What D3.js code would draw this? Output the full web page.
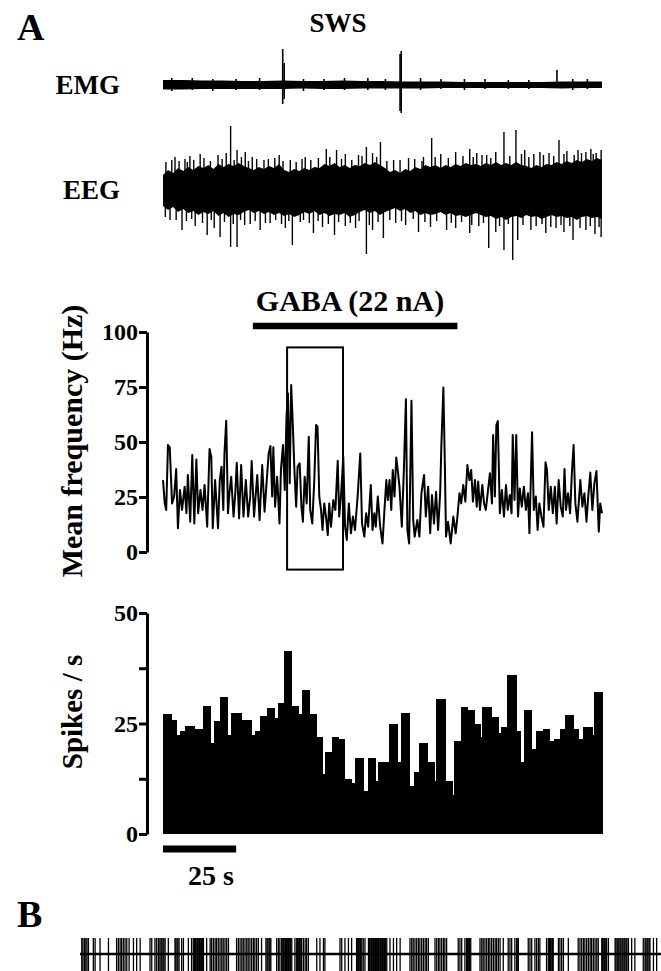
<!DOCTYPE html>
<html>
<head>
<meta charset="utf-8">
<script src="https://cdn.jsdelivr.net/npm/d3@7"></script>
<style>
body { margin: 0; background: #fff; }
text { font-family: "Liberation Serif", "Times New Roman", serif; font-weight: bold; fill: #000; }
</style>
</head>
<body>
<svg></svg>
<script>
// EMG envelope (arbitrary units), evenly spaced over 150 s, plus the large deflections [t, up, down]
const emgUpper = [5, 5, 4.5, 4.5, 4, 4, 4.5, 4, 4, 4.5, 4, 4, 3.5, 3.5, 3.5, 3, 3, 3, 3, 3, 3.5, 3.5, 3.5]
const emgLower = [-4.5, -4.5, -4, -4, -4, -4, -4, -3.5, -4, -4, -3.5, -3.5, -3.5, -3.5, -3, -3, -3, -3, -3, -3, -3.5, -3, -3]
const emgSpikes = [
    [3, 7, -6], [10, 7, -5], [17, 6, -6], [25, 6, -5], [33, 7, -5], [40.9, 36, -19], [41.4, 22, -14],
    [48, 6, -6], [55, 6, -5], [62, 7, -5], [70, 7, -5], [76, 6, -5], [81.0, 31, -26], [81.4, 34, -28],
    [88, 7, -5], [95, 6, -4], [103, 6, -5], [110, 6, -4], [118, 5, -4], [125, 5, -4], [134.6, 15, -2],
    [140, 6, -5], [145, 6, -4]
]

// EEG envelope (arbitrary units), evenly spaced over 150 s, plus spikes [t, value]
const eegUpper = [
    15, 20, 17, 22, 19, 23, 20, 24, 22, 25,
    21, 26, 23, 26, 24, 27, 24, 22, 20, 23,
    21, 24, 22, 26, 20, 18, 21, 19, 22, 20,
    23, 22, 26, 24, 27, 23, 25, 22, 25, 24,
    27, 25, 28, 25, 22, 18, 20, 17, 21, 19,
    23, 21, 25, 23, 25, 22, 25, 23, 26, 24,
    27, 25, 26, 24, 27, 25, 28, 25, 27, 25,
    28, 25, 24, 22, 25, 23, 26, 25, 28, 26,
    29, 27, 30, 28, 31, 29, 32, 30
]
const eegLower = [
    -16, -20, -17, -22, -19, -23, -21, -25, -22, -24,
    -21, -26, -23, -27, -24, -25, -22, -20, -23, -21,
    -24, -22, -25, -23, -26, -24, -27, -25, -22, -24,
    -21, -25, -23, -26, -24, -25, -23, -27, -25, -22,
    -20, -23, -21, -25, -22, -20, -18, -21, -19, -23,
    -21, -25, -23, -25, -24, -22, -25, -23, -26, -25,
    -27, -25, -23, -25, -27, -26, -29, -27, -30, -27,
    -26, -28, -25, -27, -26, -29, -27, -25, -27, -26,
    -28, -27, -30, -27, -26, -28, -27, -29
]
const eegSpikes = [
    [23.1, 64], [18.8, 35], [25.3, 40], [28.1, 38], [39.7, 35], [55.8, 41], [59.3, 40], [69.5, 43],
    [74.3, 48], [91.8, 52], [104.8, 41], [110.6, 35], [116.5, 58], [120.6, 60], [123.6, 40],
    [128.8, 38], [135.3, 50], [144.5, 38], [148.0, 37],
    [6.5, -40], [15.1, -45], [19.5, -47], [23.1, -57], [25.3, -57], [27.9, -35], [33.2, -40],
    [44.2, -55], [51.4, -43], [58.6, -45], [69.5, -64], [75.3, -48], [87.3, -42], [96.9, -40],
    [104.8, -43], [111.3, -58], [116.5, -60], [119.5, -70], [121.2, -50], [130.8, -43],
    [140.1, -50], [149.7, -47],
    [4.1, 33], [9.2, 34], [12.7, 36], [21.6, 37], [30.5, 33], [36.0, 31], [43.5, 30], [48.6, 33],
    [53.1, 32], [62.3, 36], [66.8, 35], [71.6, 37], [78.8, 30], [83.9, 32], [89.0, 33], [94.9, 36],
    [100.0, 38], [107.2, 37], [113.7, 38], [126.7, 36], [131.9, 37], [138.0, 39], [141.8, 40],
    [146.2, 41], [149.7, 40],
    [2.4, -30], [11.0, -36], [17.5, -38], [29.8, -34], [36.6, -33], [41.8, -38], [46.9, -32],
    [54.5, -37], [62.3, -36], [65.8, -38], [71.6, -40], [79.5, -33], [82.9, -35], [91.4, -37],
    [100.0, -38], [107.9, -36], [113.7, -42], [125.7, -40], [134.3, -38], [137.0, -42],
    [144.5, -40], [147.6, -44],
    [1.0, 28], [3.0, 30], [5.5, 29], [7.5, 31], [8.3, 28], [10.5, 30], [14.0, 32], [16.2, 29],
    [20.2, 31], [24.3, 30], [26.8, 33], [29.2, 29], [32.0, 31], [34.5, 30], [38.2, 32], [41.0, 29],
    [45.5, 28], [47.5, 31], [50.5, 30], [57.0, 33], [61.0, 31], [64.5, 30], [68.0, 34], [73.0, 33],
    [76.5, 29], [81.0, 30], [86.0, 31], [88.5, 29], [93.0, 33], [97.5, 32], [102.5, 34], [106.0, 33],
    [109.0, 35], [112.0, 32], [118.5, 34], [122.5, 36], [125.0, 33], [130.0, 35], [133.5, 34],
    [137.0, 36], [140.5, 35], [143.0, 37], [147.0, 36],
    [0.8, -27], [4.5, -30], [8.0, -31], [9.8, -29], [13.5, -33], [16.5, -30], [21.0, -32], [24.0, -34],
    [26.5, -30], [31.5, -31], [35.0, -33], [38.5, -30], [40.5, -34], [43.0, -31], [48.0, -30],
    [50.0, -33], [53.0, -31], [56.5, -34], [60.0, -32], [64.0, -33], [67.0, -31], [70.5, -35],
    [73.5, -32], [77.5, -30], [81.5, -31], [85.5, -29], [89.5, -32], [93.5, -31], [98.5, -33],
    [102.0, -32], [105.5, -35], [109.5, -33], [115.0, -36], [118.0, -34], [123.0, -35], [127.5, -36],
    [129.5, -34], [132.5, -37], [136.0, -35], [139.0, -36], [142.5, -38], [146.0, -36], [149.0, -37]
]

// GABA ejection period (s) and the boxed segment [t0, t1, hzLow, hzHigh]
const gabaOn = [30.7, 100.6]
const zoomBox = [42.4, 61.5, -8, 93]

// mean frequency trace [t (s), Hz]
const freqTrace = [
    [0, 32.7], [0.6, 22.1], [1.1, 19.1], [1.7, 48.6], [2.3, 47.6], [3.1, 22.1], [3.8, 25.2], [4.5, 37.7],
    [5.1, 10.8], [5.8, 28.2], [6.5, 19.1], [7.4, 29.7], [8.0, 17.6], [8.5, 35.0], [9.3, 13.8], [10.0, 44.1],
    [10.7, 13.0], [11.4, 42.1], [12.0, 17.6], [12.8, 28.2], [13.5, 19.1], [14.2, 30.5], [15.1, 11.5],
    [15.9, 46.8], [16.5, 43.3], [17.0, 10.8], [17.8, 32.7], [18.8, 10.8], [19.4, 32.7], [20.0, 38.8],
    [20.6, 19.1], [21.0, 44.8], [21.6, 59.7], [22.2, 17.6], [22.7, 26.7], [23.3, 34.2], [24.1, 16.1],
    [24.7, 26.7], [25.2, 40.6], [26.0, 15.3], [26.7, 39.5], [27.5, 16.1], [28.3, 32.7], [29.1, 16.1],
    [29.8, 25.2], [30.3, 41.4], [31.1, 16.1], [32.2, 35.0], [33.0, 14.5], [33.9, 39.5], [34.7, 18.3],
    [35.3, 29.7], [36.1, 44.8], [36.7, 48.2], [37.3, 25.2], [37.7, 47.6], [38.3, 20.6], [39.0, 34.2],
    [39.8, 13.0], [40.3, 37.3], [41.0, 48.6], [41.6, 28.2], [42.2, 61.5], [42.7, 72.1], [43.3, 31.2],
    [43.8, 75.9], [44.3, 60.0], [44.9, 37.3], [45.5, 20.6], [46.0, 38.8], [46.7, 40.3], [47.3, 20.6],
    [47.8, 13.8], [48.4, 34.2], [49.1, 22.1], [49.8, 52.4], [50.3, 19.1], [51.0, 13.0], [51.7, 32.7],
    [52.3, 57.7], [52.8, 57.0], [53.4, 25.2], [54.0, 19.1], [54.5, 10.0], [55.1, 22.1], [55.7, 16.1],
    [56.3, 7.7], [56.8, 22.1], [57.4, 11.5], [58.2, 23.6], [58.9, 19.1], [59.7, 41.5], [60.2, 16.1],
    [60.8, 25.2], [61.6, 43.3], [62.2, 11.5], [62.8, 5.5], [63.5, 22.1], [64.2, 8.5], [64.9, 16.1],
    [65.6, 10.0], [66.5, 25.2], [67.4, 44.8], [68.0, 13.0], [68.8, 7.0], [69.4, 17.6], [70.1, 11.5],
    [71.0, 30.5], [71.6, 10.0], [72.2, 17.6], [72.7, 11.5], [73.4, 25.2], [74.2, 11.5], [75.0, 3.9],
    [75.6, 17.6], [76.3, 32.7], [76.8, 23.6], [77.4, 32.7], [78.0, 19.1], [78.5, 37.3], [79.1, 25.2],
    [79.7, 43.0], [80.2, 37.3], [80.8, 29.7], [81.6, 11.5], [82.3, 37.3], [83.0, 69.4], [83.5, 10.0],
    [84.1, 3.9], [84.9, 68.8], [85.5, 14.5], [86.0, 7.0], [86.9, 14.5], [87.6, 7.0], [88.3, 26.7],
    [89.2, 35.0], [89.8, 16.1], [90.6, 29.7], [91.3, 8.5], [91.9, 25.9], [92.6, 13.0], [93.3, 27.4],
    [94.0, 10.0], [94.7, 26.7], [95.1, 47.9], [95.8, 74.8], [96.3, 40.3], [96.7, 7.0], [97.4, 13.8],
    [98.3, 3.9], [99.2, 16.1], [100.0, 8.5], [100.6, 16.1], [101.3, 26.7], [101.9, 22.1], [102.6, 30.5],
    [103.3, 22.9], [104.0, 39.5], [104.7, 32.7], [105.3, 37.3], [105.9, 22.9], [106.6, 32.7],
    [107.2, 20.6], [107.7, 32.0], [108.3, 19.1], [109.1, 30.5], [109.7, 22.1], [110.3, 19.1],
    [111.0, 27.4], [111.7, 35.8], [112.4, 22.1], [112.8, 53.2], [113.4, 25.2], [113.9, 57.7],
    [114.4, 59.5], [115.1, 17.6], [115.8, 28.2], [116.5, 16.1], [117.2, 30.5], [117.8, 19.1],
    [118.5, 25.9], [119.1, 17.6], [119.5, 53.2], [120.1, 23.6], [120.7, 53.2], [121.3, 16.1],
    [121.9, 28.9], [122.6, 20.6], [123.3, 29.7], [124.0, 19.1], [124.7, 26.7], [125.2, 8.5],
    [126.1, 54.4], [126.7, 19.1], [127.4, 25.2], [128.0, 10.0], [128.6, 22.1], [129.3, 16.1],
    [130.0, 11.5], [130.7, 40.8], [131.2, 37.3], [131.8, 19.1], [132.5, 29.7], [133.2, 17.6],
    [133.9, 29.7], [134.5, 13.0], [135.2, 32.7], [135.9, 20.6], [136.6, 16.1], [137.2, 37.7],
    [137.7, 19.1], [138.4, 26.7], [139.1, 17.6], [139.7, 35.8], [140.3, 48.6], [140.9, 22.1],
    [141.6, 13.8], [142.2, 25.2], [142.6, 32.7], [143.3, 20.6], [144.0, 26.7], [144.7, 13.8],
    [145.3, 25.2], [146.0, 36.1], [146.7, 19.1], [147.4, 31.2], [148.1, 36.8], [148.9, 9.2],
    [149.4, 22.1], [150.0, 17.6]
]
const freqTicks = [0, 25, 50, 75, 100]

// rate histogram: bin edges (s) and spikes / s
const binEdges = [
    0, 2.6, 4.6, 5.7, 7.6, 10.6, 11.4, 13.7, 16.0, 17.4, 19.6, 22.0, 23.4, 26.5, 30.2, 31.4, 33.3,
    35.6, 37.9, 39.4, 41.4, 43.9, 46.2, 47.6, 50.0, 52.3, 54.2, 55.4, 57.6, 59.9, 62.0, 64.3, 65.7,
    68.2, 69.9, 72.3, 73.6, 77.2, 80.0, 81.4, 84.2, 85.7, 87.4, 90.3, 92.6, 93.4, 96.3, 98.6, 99.4,
    101.7, 104.0, 106.3, 108.3, 109.1, 112.0, 114.5, 115.4, 117.5, 120.5, 122.0, 123.4, 125.9, 127.6,
    129.7, 132.0, 133.5, 135.7, 137.3, 140.2, 141.9, 143.4, 146.5, 147.4, 150
]
const spikeRate = [
    27.1, 25.8, 22.4, 23.3, 24.4, 23.7, 23.8, 28.9, 20.7, 25.6,
    31.1, 22.4, 27.4, 25.7, 22.4, 23.4, 26.6, 28.4, 26.2, 29.7,
    41.5, 28.9, 27.1, 32.5, 27.1, 22.0, 13.5, 18.6, 21.9, 21.5,
    12.4, 11.5, 17.3, 9.7, 17.3, 12.0, 16.2, 24.8, 16.4, 27.4,
    10.9, 14.1, 20.6, 16.4, 11.9, 30.6, 11.9, 8.8, 21.0, 28.8,
    28.0, 24.8, 22.0, 28.8, 26.5, 22.8, 24.3, 36.0, 23.4, 16.4,
    28.0, 19.2, 23.3, 23.8, 21.1, 21.5, 23.8, 27.0, 23.8, 21.5,
    24.3, 22.4, 32.2
]
const rateTicks = [0, 12.5, 25, 37.5, 50]
const rateLabels = [0, 25, 50]
const scaleBar = [0, 25]

// B: spike times (s) of the expanded raster
const rasterTimes = [
    0.06, 0.10, 0.15, 0.20, 0.24, 0.29, 0.46, 0.52, 0.69, 0.98, 1.26, 1.32, 1.38, 1.43, 1.49, 1.55,
    1.61, 1.69, 1.84, 1.95, 2.07, 2.41, 2.47, 2.58, 2.64, 2.70, 2.75, 2.79, 2.82, 2.86, 2.89, 2.93,
    3.04, 3.27, 3.30, 3.34, 3.37, 3.41, 3.50, 3.56, 3.73, 3.84, 3.90, 3.94, 3.97, 4.00, 4.04, 4.07,
    4.11, 4.14, 4.18, 4.21, 4.25, 4.36, 4.48, 4.53, 4.59, 4.65, 4.70, 4.76, 4.82, 4.88, 4.93, 4.99,
    5.05, 5.11, 5.39, 5.45, 5.51, 5.57, 5.62, 5.68, 5.74, 5.79, 5.85, 5.91, 5.97, 6.02, 6.08, 6.14,
    6.25, 6.40, 6.44, 6.47, 6.51, 6.54, 6.57, 6.77, 6.83, 6.88, 6.94, 6.98, 7.01, 7.05, 7.08, 7.11,
    7.15, 7.18, 7.22, 7.25, 7.29, 7.40, 7.46, 7.49, 7.53, 7.56, 7.60, 7.63, 7.69, 7.75, 7.80, 7.86,
    8.15, 8.26, 8.38, 8.43, 8.95, 9.01, 9.12, 9.24, 9.35, 9.52, 9.56, 9.59, 9.63, 9.66, 9.70, 9.75,
    9.81, 9.93, 9.96, 9.99, 10.03, 10.06, 10.10, 10.13, 10.17, 10.20, 10.24, 10.27, 10.30, 10.34,
    10.37, 10.41, 10.44, 10.48, 10.51, 10.56, 10.67, 10.79, 10.90, 11.02, 11.36, 11.42, 11.47, 11.53,
    11.59, 11.65, 11.70, 11.76, 11.82, 11.88, 11.93, 11.99, 12.22, 12.28, 12.34, 12.39, 12.45, 12.51,
    12.56, 12.62, 13.02, 13.08, 13.14, 13.25, 13.31, 13.34, 13.38, 13.41, 13.45, 13.77, 13.83, 13.88,
    13.94, 14.00, 14.06, 14.11, 14.17, 14.23, 14.29, 14.34, 14.40, 14.46, 14.57, 14.74, 14.80, 14.86,
    14.97, 15.03, 15.05, 15.09, 15.43, 15.49, 15.55, 15.66, 15.72, 15.78, 15.83, 16.06, 16.12, 16.16,
    16.19, 16.22, 16.26, 16.29, 16.47, 16.52, 16.58, 16.64, 16.81, 17.15, 17.21, 17.27, 17.33, 17.38,
    17.44, 17.50, 17.56, 17.61, 17.67, 17.73, 17.79, 17.84, 17.96, 17.99, 18.03, 18.06, 18.10, 18.13,
    18.19, 18.42, 18.45, 18.49, 18.52, 18.55, 18.59, 18.62, 18.66, 18.69, 18.73, 18.76, 18.80, 18.83,
    18.88, 18.99, 19.10, 19.39, 19.45, 19.48, 19.52, 19.55, 19.59, 19.62, 19.74, 19.85
]

let svgWidth = 661, svgHeight = 971

let svg = d3.select('svg')
    .attr('width', svgWidth)
    .attr('height', svgHeight)

let x = d3.scaleLinear().domain([0, 150]).range([163, 602])
let yEmg = d3.scaleLinear().domain([-50, 50]).range([135, 35])
let yEeg = d3.scaleLinear().domain([-100, 100]).range([290, 90])
let yFreq = d3.scaleLinear().domain([0, 100]).range([552, 332])
let yRate = d3.scaleLinear().domain([0, 50]).range([834, 613])
let xRaster = d3.scaleLinear().domain([0, 20]).range([80, 661])

// panel letters and titles
svg.append('text').attr('x', 17).attr('y', 40).attr('font-size', 38).text('A')
svg.append('text').attr('x', 17).attr('y', 927).attr('font-size', 38).text('B')
svg.append('text').attr('x', 338).attr('y', 32).attr('font-size', 27).attr('text-anchor', 'middle').text('SWS')
svg.append('text').attr('x', 120).attr('y', 94).attr('font-size', 27).attr('text-anchor', 'end').text('EMG')
svg.append('text').attr('x', 120).attr('y', 199).attr('font-size', 27).attr('text-anchor', 'end').text('EEG')

// EMG
let emgStep = 150 / (emgUpper.length - 1)
svg.append('path')
    .datum(emgUpper)
    .attr('fill', '#000')
    .attr('d', d3.area()
        .x((d, i) => x(i * emgStep))
        .y0((d, i) => yEmg(emgLower[i]))
        .y1(d => yEmg(d)))
svg.selectAll('line.emg')
    .data(emgSpikes)
    .enter()
    .append('line')
    .attr('class', 'emg')
    .attr('x1', d => x(d[0])).attr('x2', d => x(d[0]))
    .attr('y1', d => yEmg(d[1])).attr('y2', d => yEmg(d[2]))
    .attr('stroke', '#000')
    .attr('stroke-width', 1.6)

// EEG
let eegStep = 150 / (eegUpper.length - 1)
svg.append('path')
    .datum(eegUpper)
    .attr('fill', '#000')
    .attr('d', d3.area()
        .x((d, i) => x(i * eegStep))
        .y0((d, i) => yEeg(eegLower[i]))
        .y1(d => yEeg(d)))
svg.selectAll('line.eeg')
    .data(eegSpikes)
    .enter()
    .append('line')
    .attr('class', 'eeg')
    .attr('x1', d => x(d[0])).attr('x2', d => x(d[0]))
    .attr('y1', yEeg(0)).attr('y2', d => yEeg(d[1]))
    .attr('stroke', '#000')
    .attr('stroke-width', 1.4)

// GABA bar
svg.append('text').attr('x', 350).attr('y', 311).attr('font-size', 30).attr('text-anchor', 'middle').text('GABA (22 nA)')
svg.append('line')
    .attr('x1', x(gabaOn[0])).attr('x2', x(gabaOn[1]))
    .attr('y1', 326).attr('y2', 326)
    .attr('stroke', '#000')
    .attr('stroke-width', 6.5)

// mean frequency
function styleAxis(g) {
    g.select('.domain').attr('stroke-width', 3)
    g.selectAll('.tick line').attr('stroke-width', 3)
    g.selectAll('.tick text').style('font-size', '24px')
}

let freqAxis = d3.axisLeft(yFreq).tickValues(freqTicks).tickSize(8).tickSizeOuter(0).tickPadding(1)
svg.append('g').attr('transform', 'translate(147,0)').call(freqAxis).call(styleAxis)

svg.append('text')
    .attr('transform', 'translate(82,441) rotate(-90)')
    .attr('font-size', 30)
    .attr('text-anchor', 'middle')
    .text('Mean frequency (Hz)')

svg.append('path')
    .datum(freqTrace)
    .attr('fill', 'none')
    .attr('stroke', '#000')
    .attr('stroke-width', 2)
    .attr('stroke-linejoin', 'round')
    .attr('d', d3.line().x(d => x(d[0])).y(d => yFreq(d[1])))

svg.append('rect')
    .attr('x', x(zoomBox[0]))
    .attr('y', yFreq(zoomBox[3]))
    .attr('width', x(zoomBox[1]) - x(zoomBox[0]))
    .attr('height', yFreq(zoomBox[2]) - yFreq(zoomBox[3]))
    .attr('fill', 'none')
    .attr('stroke', '#000')
    .attr('stroke-width', 2)

// rate histogram
let rateAxis = d3.axisLeft(yRate).tickValues(rateTicks).tickSize(8).tickSizeOuter(0).tickPadding(1)
    .tickFormat(d => rateLabels.includes(d) ? d : '')
svg.append('g').attr('transform', 'translate(147,0)').call(rateAxis).call(styleAxis)

svg.append('text')
    .attr('transform', 'translate(82,712) rotate(-90)')
    .attr('font-size', 29)
    .attr('text-anchor', 'middle')
    .text('Spikes / s')

svg.selectAll('rect.bin')
    .data(spikeRate)
    .enter()
    .append('rect')
    .attr('class', 'bin')
    .attr('x', (d, i) => x(binEdges[i]))
    .attr('width', (d, i) => x(binEdges[i + 1]) - x(binEdges[i]) + 1)
    .attr('y', d => yRate(d))
    .attr('height', d => yRate(0) - yRate(d))
    .attr('fill', '#000')
    .attr('shape-rendering', 'crispEdges')

svg.append('line')
    .attr('x1', x(scaleBar[0])).attr('x2', x(scaleBar[1]))
    .attr('y1', 849).attr('y2', 849)
    .attr('stroke', '#000')
    .attr('stroke-width', 7)
svg.append('text').attr('x', 211).attr('y', 885).attr('font-size', 28).attr('text-anchor', 'middle').text('25 s')

// B raster
svg.append('line')
    .attr('x1', xRaster(0)).attr('x2', xRaster(20))
    .attr('y1', 954).attr('y2', 954)
    .attr('stroke', '#000')
    .attr('stroke-width', 2.5)
svg.selectAll('line.spk')
    .data(rasterTimes)
    .enter()
    .append('line')
    .attr('class', 'spk')
    .attr('x1', d => xRaster(d)).attr('x2', d => xRaster(d))
    .attr('y1', 938).attr('y2', 971)
    .attr('stroke', '#000')
    .attr('stroke-width', 1.3)
</script>
</body>
</html>
